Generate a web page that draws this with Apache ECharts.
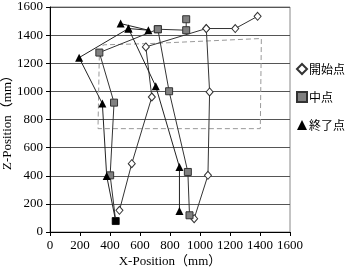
<!DOCTYPE html>
<html>
<head>
<meta charset="utf-8">
<script src="https://cdn.jsdelivr.net/npm/echarts@6/dist/echarts.min.js"></script>
<style>
html, body { margin: 0; padding: 0; background: #fff; }
#chart { width: 346px; height: 269px; }
</style>
</head>
<body>
<div id="chart"></div>
<script type="text/javascript">
// 開始点 / 中点 / 終了点 (X, Z in mm), '-' breaks the line
var startPts = [[463,154],[545,486],[679,960],[639,1316],[1042,1447],[1235,1447],[1384,1534],'-',[1042,1447],[1064,996],[1053,403],[961,95]];
var midPts   = [[438,78],[401,403],[427,920],[329,1276],[719,1442],[908,1435],[908,1513],'-',[719,1442],[794,1001],[919,427],[930,119]];
var endPts   = [[438,78],[378,398],[349,913],[194,1240],[523,1447],[656,1435],[471,1482],'-',[523,1447],[705,1036],[863,462],[863,149]];
var areaPts  = [[329,1271],[356,1331],[668,1340],[1409,1376],[1402,735],[320,735],[329,1271]];
var xTicks = [0,200,400,600,800,1000,1200,1400,1600];
var zTicks = [0,200,400,600,800,1000,1200,1400,1600];

var serif = '"Liberation Serif", "Noto Sans CJK JP", serif';
var myChart = echarts.init(document.getElementById('chart'));
var option = {
    animation: false,
    textStyle: { fontFamily: serif, color: '#000' },
    grid: { left: 50, right: 56, top: 7, bottom: 37, show: true, borderColor: '#888', borderWidth: 1, outerBoundsMode: 'none', containLabel: false },
    legend: {
        orient: 'vertical', left: 296, top: 63, itemGap: 16, padding: 0,
        itemWidth: 10, itemHeight: 10,
        textStyle: { fontFamily: '"Noto Sans CJK JP", serif', fontSize: 12, color: '#000', padding: [0, 0, 0, -3] },
        data: [{name: '開始点', icon: 'diamond'}, {name: '中点', icon: 'rect'}, {name: '終了点', icon: 'triangle'}]
    },
    xAxis: {
        type: 'value', min: xTicks[0], max: xTicks[xTicks.length - 1], interval: 200,
        name: 'X-Position（mm）', nameLocation: 'middle', nameGap: 23, nameMoveOverlap: false,
        nameTextStyle: { fontFamily: serif, fontSize: 13, color: '#000' },
        axisLine: { show: true, lineStyle: { color: '#000' } },
        axisTick: { show: true, length: 4, lineStyle: { color: '#000' } },
        axisLabel: { fontFamily: serif, fontSize: 13, color: '#000', margin: 7, hideOverlap: false, showMaxLabel: true, showMinLabel: true, formatter: function (v) { return String(v); } },
        splitLine: { show: false }
    },
    yAxis: {
        type: 'value', min: zTicks[0], max: zTicks[zTicks.length - 1], interval: 200,
        name: 'Z-Position（mm）', nameLocation: 'middle', nameGap: 36, nameMoveOverlap: false,
        nameTextStyle: { fontFamily: serif, fontSize: 13, color: '#000' },
        axisLine: { show: true, lineStyle: { color: '#000' } },
        axisTick: { show: true, length: 4, lineStyle: { color: '#000' } },
        axisLabel: { fontFamily: serif, fontSize: 13, color: '#000', margin: 7, hideOverlap: false, showMaxLabel: true, formatter: function (v) { return String(v); } },
        splitLine: { show: true, lineStyle: { color: '#555', width: 1 } }
    },
    series: [
        {
            name: 'area', type: 'line', data: areaPts, symbol: 'none', silent: true,
            lineStyle: { color: '#999', width: 1, type: [5, 3] }
        },
        {
            name: '開始点', type: 'line', data: startPts, symbol: 'diamond', symbolSize: [7, 8],
            lineStyle: { color: '#333', width: 1 },
            itemStyle: { color: '#fff', borderColor: '#333', borderWidth: 1 }
        },
        {
            name: '中点', type: 'line', data: midPts, symbol: 'rect', symbolSize: 7,
            lineStyle: { color: '#333', width: 1 },
            itemStyle: { color: '#808080', borderColor: '#333', borderWidth: 1 }
        },
        {
            name: '終了点', type: 'line', symbol: 'triangle', symbolSize: 8,
            data: endPts.map(function (p, i) {
                return i === 0 ? { value: p, symbol: 'rect', symbolSize: 7 } : p;
            }),
            lineStyle: { color: '#222', width: 1 },
            itemStyle: { color: '#000', borderColor: '#000', borderWidth: 0 }
        }
    ]
};
myChart.setOption(option);
</script>
</body>
</html>
